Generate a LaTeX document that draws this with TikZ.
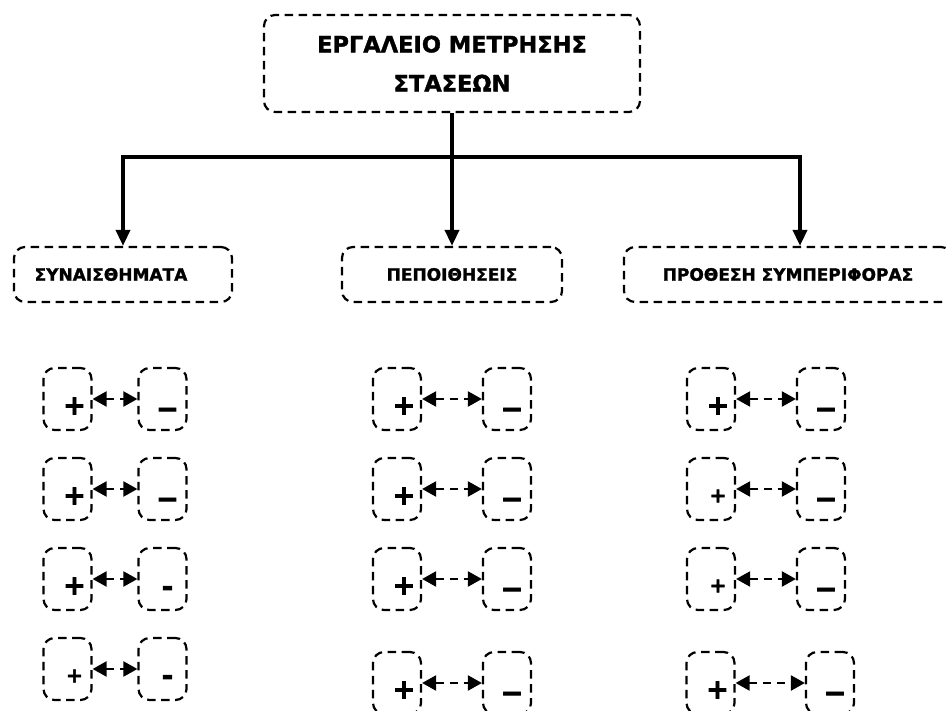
\documentclass[tikz,border=0pt]{standalone}
\usepackage{fontspec}
\setmainfont{DejaVu Sans}[BoldFeatures={FakeBold=1.5}]
\newfontfamily\signfont{DejaVu Sans Bold}[FakeBold=3]
\usetikzlibrary{positioning, arrows.meta}

\begin{document}
\begin{tikzpicture}[x=1pt, y=-1pt,
  dash box/.style={draw, line width=2.2pt, dash pattern=on 8.5pt off 5.5pt, rounded corners=11pt},
  title node/.style={dash box, minimum width=376pt, minimum height=97pt, align=center,
    font=\bfseries\fontsize{22.5}{39}\selectfont},
  group node/.style={dash box, minimum height=55pt, font=\bfseries\fontsize{17}{19}\selectfont},
  sign node/.style={dash box, minimum width=48pt, minimum height=62pt, inner sep=0pt},
  link/.style={line width=3.6pt, line join=miter, -{Triangle[length=16pt, width=14pt]}},
  pair/.style={line width=2.2pt, dash pattern=on 8pt off 6pt,
    {Triangle[length=14pt, width=15pt]}-{Triangle[length=14pt, width=15pt]}},
  big/.style={font=\signfont\fontsize{27}{27}\selectfont, inner sep=0pt},
  small/.style={font=\signfont\fontsize{20}{20}\selectfont, inner sep=0pt}]

\useasboundingbox (0,0) rectangle (946,711);
\clip (0,0) rectangle (946,711);

\node[title node] (tool) at (452,63.5) {ΕΡΓΑΛΕΙΟ ΜΕΤΡΗΣΗΣ\\ΣΤΑΣΕΩΝ};

\node[group node, minimum width=218pt] (feel) at (123,274.5) {ΣΥΝΑΙΣΘΗΜΑΤΑ\hspace*{24pt}};
\node[group node, minimum width=220pt] (belief) at (452,274.5) {ΠΕΠΟΙΘΗΣΕΙΣ};
\node[group node, minimum width=328pt] (intent) at (788,274.5) {ΠΡΟΘΕΣΗ ΣΥΜΠΕΡΙΦΟΡΑΣ};

\coordinate (fork) at (452,157);
\coordinate (rhit) at (800,157);

\draw[link] (tool.south) -- (belief.north);
\draw[link] (fork) -| (feel.north);
\draw[link] (fork) -| (rhit |- intent.north);

% plus / minus pairs
\foreach \px/\mx/\y/\ps/\mt/\mo [count=\i] in {
  67.5/162.5/399/big/−/14, 67.5/162.5/489/big/−/14,
  67.5/162.5/579/big/-/12, 67.5/162.5/669/small/-/11,
  397/507/399/big/−/14, 397/507/489/big/−/14,
  397/507/579/big/−/14, 397/507/683/big/−/14,
  711/821/399/big/−/14, 711/821/489/small/−/14,
  711/821/579/small/−/14, 710.5/830/683/big/−/14}{
  \node[sign node] (p\i) at (\px,\y) {};
  \node[sign node] (m\i) at (\mx,\y) {};
  \node[\ps] (ps\i) at ([shift={(7,7)}]p\i.center) {+};
  \node[big] (ms\i) at ([shift={(5,\mo)}]m\i.center) {\mt};
  \draw[pair] (p\i) -- (m\i);
}

\end{tikzpicture}
\end{document}
